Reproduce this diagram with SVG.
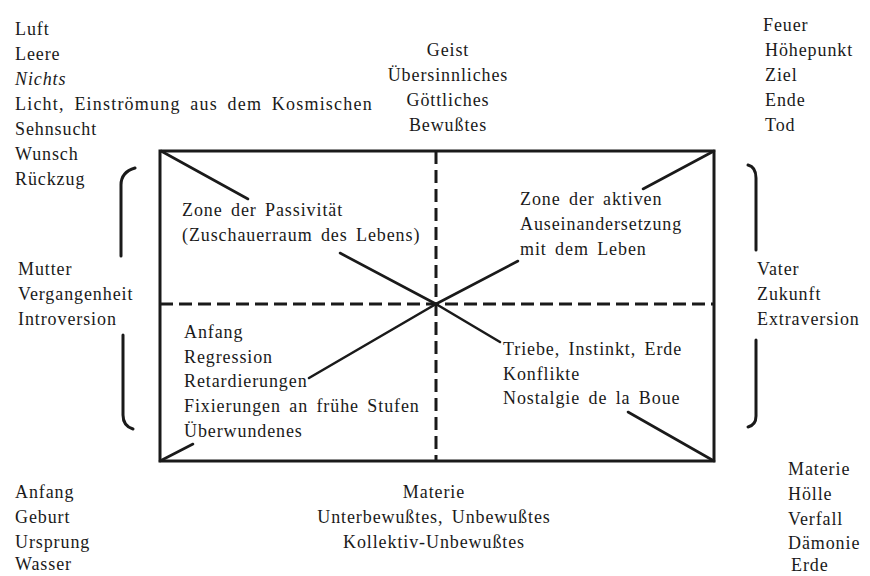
<svg xmlns="http://www.w3.org/2000/svg" width="870" height="576" viewBox="0 0 870 576">
<style>
text{font-family:"Liberation Serif","DejaVu Serif",serif;font-size:18px;fill:#1a1a1a;letter-spacing:0.9px;word-spacing:3px}
.c{text-anchor:middle}
.it{font-style:italic}
.wide{letter-spacing:1.2px;word-spacing:4px}
.box{fill:none;stroke:#1a1a1a;stroke-width:3}
.dash{fill:none;stroke:#1a1a1a;stroke-width:3;stroke-dasharray:13 6}
.ln{fill:none;stroke:#1a1a1a;stroke-width:2.6;stroke-linecap:round}
.br{fill:none;stroke:#1a1a1a;stroke-width:3;stroke-linecap:round}
</style>
<rect width="870" height="576" fill="#fff"/>
<g id="frame">
<rect class="box" x="160" y="151" width="554" height="310"/>
<line class="dash" x1="160" y1="304" x2="714" y2="304"/>
<line class="dash" x1="436" y1="151" x2="436" y2="461"/>
</g>
<g id="connectors">
<line class="ln" x1="161" y1="151" x2="248" y2="199"/>
<line class="ln" x1="340" y1="253" x2="436" y2="304"/>
<line class="ln" x1="714" y1="151" x2="643" y2="189"/>
<line class="ln" x1="518" y1="261" x2="436" y2="304"/>
<line class="ln" x1="436" y1="304" x2="309" y2="378"/>
<line class="ln" x1="193" y1="444" x2="160" y2="461"/>
<line class="ln" x1="436" y1="304" x2="500" y2="342"/>
<line class="ln" x1="628" y1="412" x2="714" y2="461"/>
</g>
<g id="brackets">
<path class="br" d="M135,168 Q121,172 121,185 L121,256"/>
<path class="br" d="M123,335 L123,415 Q123,426 133,429"/>
<path class="br" d="M748,165 Q756,167 756,178 L756,250"/>
<path class="br" d="M756,340 L756,416 Q756,425 748,427"/>
</g>
<g id="top-left">
<text x="15" y="35">Luft</text>
<text x="15" y="60">Leere</text>
<text x="15" y="85" class="it">Nichts</text>
<text x="15" y="110" class="wide">Licht, Einströmung aus dem Kosmischen</text>
<text x="15" y="135">Sehnsucht</text>
<text x="15" y="160">Wunsch</text>
<text x="15" y="185">Rückzug</text>
</g>
<g id="top-center">
<text class="c" x="448" y="56">Geist</text>
<text class="c" x="448" y="81">Übersinnliches</text>
<text class="c" x="448" y="106">Göttliches</text>
<text class="c" x="448" y="131">Bewußtes</text>
</g>
<g id="top-right">
<text x="763" y="31">Feuer</text>
<text x="765" y="56">Höhepunkt</text>
<text x="765" y="81">Ziel</text>
<text x="765" y="106">Ende</text>
<text x="765" y="131">Tod</text>
</g>
<g id="zone-passive">
<text x="182" y="216">Zone der Passivität</text>
<text x="182" y="241">(Zuschauerraum des Lebens)</text>
</g>
<g id="zone-active">
<text x="520" y="205">Zone der aktiven</text>
<text x="520" y="230">Auseinandersetzung</text>
<text x="520" y="255">mit dem Leben</text>
</g>
<g id="zone-lower-left">
<text x="184" y="338">Anfang</text>
<text x="184" y="363">Regression</text>
<text x="184" y="387">Retardierungen</text>
<text x="184" y="412">Fixierungen an frühe Stufen</text>
<text x="184" y="437">Überwundenes</text>
</g>
<g id="zone-lower-right">
<text x="503" y="355">Triebe, Instinkt, Erde</text>
<text x="503" y="380">Konflikte</text>
<text x="503" y="404">Nostalgie de la Boue</text>
</g>
<g id="left-middle">
<text x="18" y="275">Mutter</text>
<text x="18" y="300">Vergangenheit</text>
<text x="18" y="325">Introversion</text>
</g>
<g id="right-middle">
<text x="757" y="275">Vater</text>
<text x="757" y="300">Zukunft</text>
<text x="757" y="325">Extraversion</text>
</g>
<g id="bottom-left">
<text x="15" y="498">Anfang</text>
<text x="15" y="523">Geburt</text>
<text x="15" y="548">Ursprung</text>
<text x="15" y="570">Wasser</text>
</g>
<g id="bottom-center">
<text class="c" x="434" y="498">Materie</text>
<text class="c" x="434" y="523">Unterbewußtes, Unbewußtes</text>
<text class="c" x="434" y="548">Kollektiv-Unbewußtes</text>
</g>
<g id="bottom-right">
<text x="788" y="475">Materie</text>
<text x="788" y="500">Hölle</text>
<text x="788" y="525">Verfall</text>
<text x="788" y="549">Dämonie</text>
<text x="791" y="571">Erde</text>
</g>
</svg>
